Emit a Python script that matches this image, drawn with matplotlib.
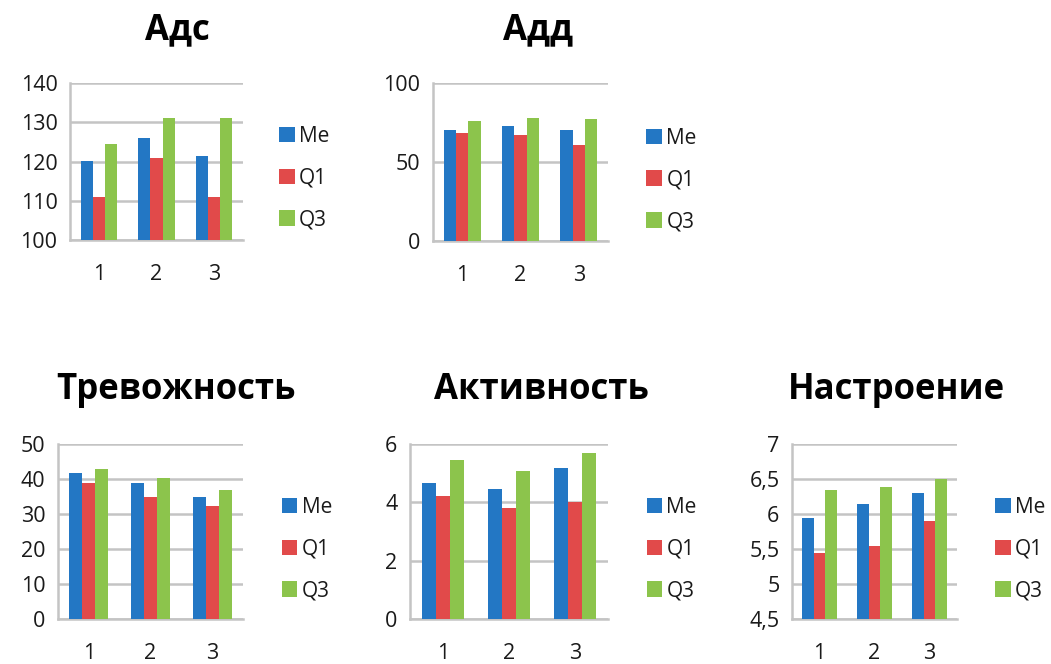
import matplotlib
matplotlib.use('Agg')
import matplotlib.pyplot as plt
import numpy as np

plt.rcParams['font.family'] = ['Open Sans', 'DejaVu Sans']

# группы и показатели
groups = ['1', '2', '3']
series = ['Me', 'Q1', 'Q3']
colors = ['#2377c4', '#e14a4a', '#8cc44c']

# Адс
ads_me = [120, 126, 121.3]
ads_q1 = [111, 121, 111]
ads_q3 = [124.5, 131, 131]

# Адд
add_me = [70, 72.5, 70]
add_q1 = [68.3, 67.2, 61]
add_q3 = [76, 78, 77]

# Тревожность
trev_me = [41.7, 38.9, 34.9]
trev_q1 = [38.9, 34.9, 32.4]
trev_q3 = [42.8, 40.4, 36.8]

# Активность
akt_me = [4.66, 4.47, 5.18]
akt_q1 = [4.23, 3.8, 4.01]
akt_q3 = [5.46, 5.07, 5.7]

# Настроение
nastr_me = [5.94, 6.14, 6.3]
nastr_q1 = [5.44, 5.54, 5.9]
nastr_q3 = [6.34, 6.38, 6.5]

ads_ticks = [100, 110, 120, 130, 140]
add_ticks = [0, 50, 100]
trev_ticks = [0, 10, 20, 30, 40, 50]
akt_ticks = [0, 2, 4, 6]
nastr_ticks = [4.5, 5, 5.5, 6, 6.5, 7]

W, H = 1051, 664
fig = plt.figure(figsize=(W / 100, H / 100), dpi=100)


def box(left, right, top, bottom):
    # пиксели -> доли фигуры
    return [left / W, 1 - bottom / H, (right - left) / W, (bottom - top) / H]


def fmt(v):
    s = ('%g' % v).replace('.', ',')
    return s


def draw(rect, data, ticks, leg_x, leg_y):
    ax = fig.add_axes(rect)
    x = np.arange(1, len(groups) + 1)
    w = 0.21
    for i, (vals, name) in enumerate(zip(data, series)):
        ax.bar(x + (i - 1) * w, np.array(vals) - ticks[0], w, bottom=ticks[0],
               color=colors[i], label=name, zorder=3)
    ax.set_xlim(0.5, 3.5)
    ax.set_ylim(ticks[0], ticks[-1])
    ax.set_yticks(ticks)
    ax.set_yticklabels([fmt(t) for t in ticks])
    ax.set_xticks(x)
    ax.set_xticklabels(groups)
    ax.grid(axis='y', color='#c4c4c4', linewidth=1.8, zorder=0)
    for s in ['top', 'right']:
        ax.spines[s].set_visible(False)
    for s in ['left', 'bottom']:
        ax.spines[s].set_color('#c4c4c4')
        ax.spines[s].set_linewidth(1.8)
    ax.tick_params(axis='y', length=0, pad=9, labelsize=15.5, labelcolor='#1a1a1a')
    ax.tick_params(axis='x', length=0, pad=17, labelsize=15.5, labelcolor='#1a1a1a')
    leg = ax.legend(loc='center left', bbox_to_anchor=(leg_x, leg_y), frameon=False,
                    fontsize=15, handlelength=0.75, handleheight=0.75,
                    handletextpad=0.2, labelspacing=1.0, borderpad=0, borderaxespad=0)
    for txt in leg.get_texts():
        txt.set_color('#1a1a1a')
    return ax


draw(box(70, 243, 83, 240), [ads_me, ads_q1, ads_q3], ads_ticks, 1.21, 0.395)
draw(box(433, 608, 83, 241), [add_me, add_q1, add_q3], add_ticks, 1.22, 0.387)
draw(box(58, 243, 444, 619), [trev_me, trev_q1, trev_q3], trev_ticks, 1.21, 0.40)
draw(box(410, 608, 444, 619), [akt_me, akt_q1, akt_q3], akt_ticks, 1.195, 0.40)
draw(box(792, 957, 444, 619), [nastr_me, nastr_q1, nastr_q3], nastr_ticks, 1.23, 0.40)

titles = [('Адс', 177, 30), ('Адд', 538, 30),
          ('Тревожность', 176, 390), ('Активность', 541, 390), ('Настроение', 896, 390)]
for t, cx, cy in titles:
    fig.text(cx / W, 1 - cy / H, t, ha='center', va='center',
             fontsize=25, fontweight='bold')

fig.savefig('out.png', dpi=100)
